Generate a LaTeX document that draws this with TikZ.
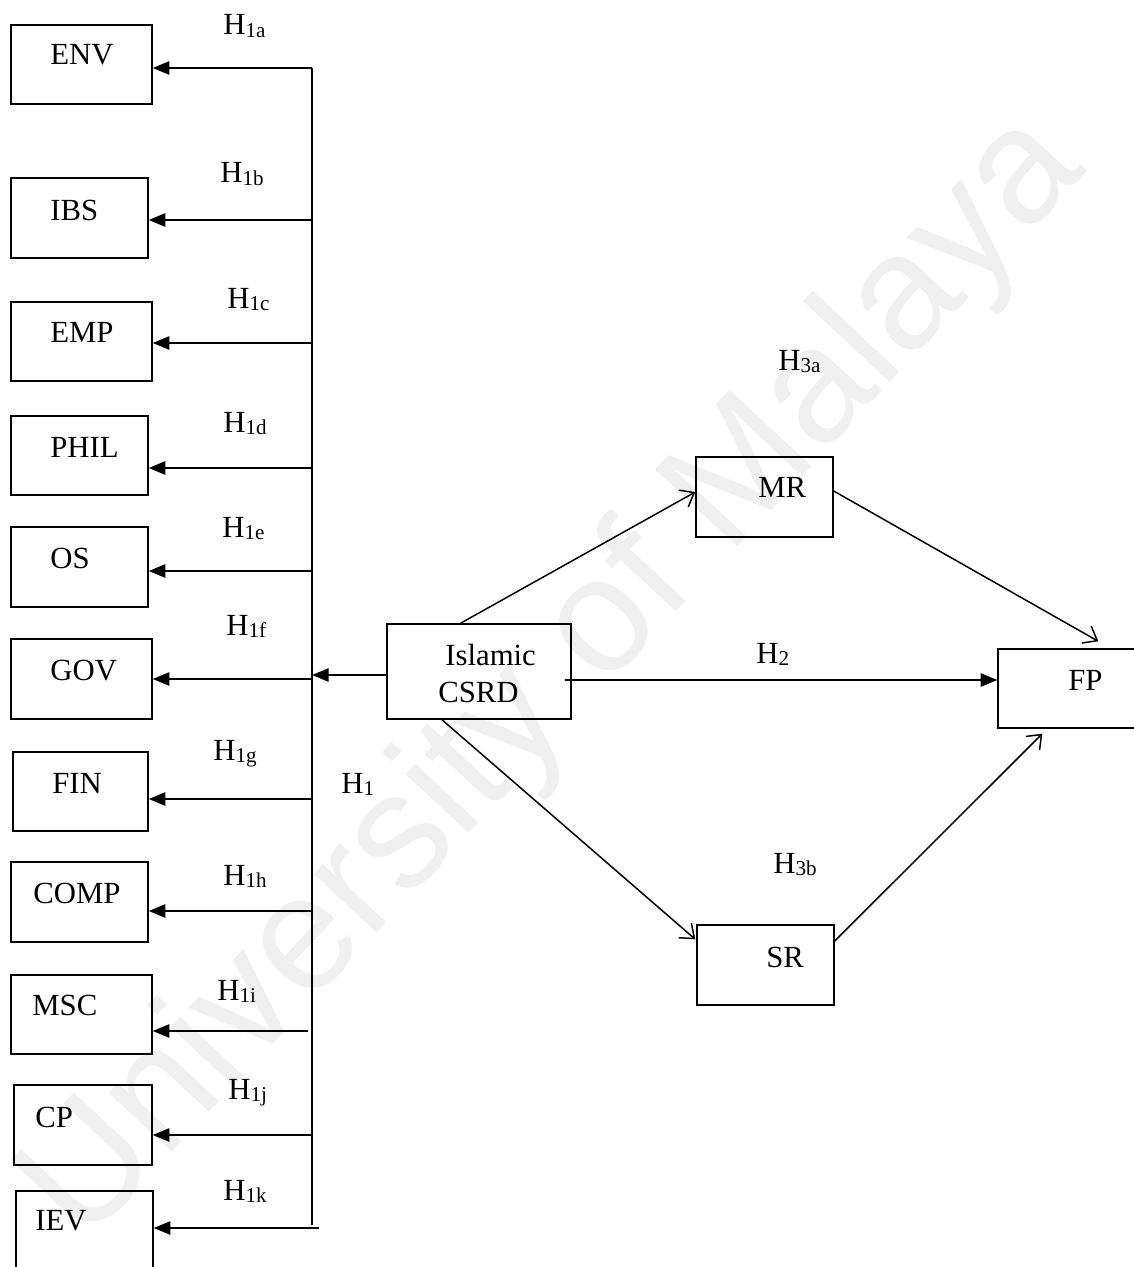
\documentclass[tikz,border=0pt]{standalone}
\usepackage{fontspec}
\setmainfont{Liberation Serif}
\newfontfamily\wmfont{Liberation Sans}
\usetikzlibrary{arrows.meta,calc,fit}

% hypothesis label: H with a lowered, smaller index
\newcommand{\hyp}[1]{H\raisebox{-1.6pt}{\fontsize{12}{12}\selectfont #1}}

\begin{document}
\begin{tikzpicture}[x=0.02cm, y=-0.02cm,
  box/.style={draw, line width=0.8pt, inner sep=0pt},
  lab/.style={inner sep=0pt, font=\fontsize{17.5}{20}\selectfont},
  fillarrow/.style={line width=1.3pt, -{Triangle[length=9.5pt,width=7.5pt]}},
  openarrow/.style={line width=0.85pt, -{Straight Barb[length=7pt,width=11pt,line width=0.85pt]}},
]
\useasboundingbox (0,0) rectangle (1133,1267);

% watermark
\node[text=black!6, font=\wmfont\fontsize{93}{93}\selectfont, rotate=47, inner sep=0pt]
  (wm) at (555,680) {University of Malaya};

% dimension boxes on the left
\node[box, fit={(11,25)(152,104)}]    (env)  {};
\node[box, fit={(11,178)(148,258)}]   (ibs)  {};
\node[box, fit={(11,302)(152,381)}]   (emp)  {};
\node[box, fit={(11,416)(148,495)}]   (phil) {};
\node[box, fit={(11,527)(148,607)}]   (os)   {};
\node[box, fit={(11,639)(152,719)}]   (gov)  {};
\node[box, fit={(13,752)(148,831)}]   (fin)  {};
\node[box, fit={(11,862)(148,942)}]   (comp) {};
\node[box, fit={(11,975)(152,1054)}]  (msc)  {};
\node[box, fit={(14,1085)(152,1165)}] (cp)   {};
\node[box, fit={(16,1191)(153,1290)}] (iev)  {};

\node[lab, anchor=base west] (envT)  at (50,65)   {ENV};
\node[lab, anchor=base west] (ibsT)  at (50,220)  {IBS};
\node[lab, anchor=base west] (empT)  at (50,342)  {EMP};
\node[lab, anchor=base west] (philT) at (50,457)  {PHIL};
\node[lab, anchor=base west] (osT)   at (50,568)  {OS};
\node[lab, anchor=base west] (govT)  at (50,680)  {GOV};
\node[lab, anchor=base west] (finT)  at (52,793)  {FIN};
\node[lab, anchor=base west] (compT) at (33,903)  {COMP};
\node[lab, anchor=base west] (mscT)  at (32,1015) {MSC};
\node[lab, anchor=base west] (cpT)   at (35,1127) {CP};
\node[lab, anchor=base west] (ievT)  at (35,1230) {IEV};

% model boxes
\node[box, fit={(387,624)(571,719)}]  (isl) {};
\node[box, fit={(696,457)(833,537)}]  (mr)  {};
\node[box, fit={(998,649)(1145,728)}] (fp)  {};
\node[box, fit={(697,925)(834,1005)}] (sr)  {};

\node[lab, anchor=base west] (islT)  at (445,665)  {Islamic};
\node[lab, anchor=base west] (csrdT) at (438,702)  {CSRD};
\node[lab, anchor=base west] (mrT)   at (758,497)  {MR};
\node[lab, anchor=base west] (fpT)   at (1068,690) {FP};
\node[lab, anchor=base west] (srT)   at (766,967)  {SR};

% vertical bus feeding the dimensions
\coordinate (bustop) at (312,68);
\coordinate (busbot) at (312,1225);
\draw[line width=1.3pt] (bustop) -- (busbot);

\coordinate (bENV)  at (312,68);
\coordinate (bIBS)  at (312,220);
\coordinate (bEMP)  at (312,343);
\coordinate (bPHIL) at (312,468);
\coordinate (bOS)   at (312,571);
\coordinate (bGOV)  at (312,679);
\coordinate (bFIN)  at (312,799);
\coordinate (bCOMP) at (312,911);
\coordinate (bMSC)  at (308,1031);
\coordinate (bCP)   at (312,1135);
\coordinate (bIEV)  at (319,1228);

\draw[fillarrow] (bENV)  -- (bENV  -| env.east);
\draw[fillarrow] (bIBS)  -- (bIBS  -| ibs.east);
\draw[fillarrow] (bEMP)  -- (bEMP  -| emp.east);
\draw[fillarrow] (bPHIL) -- (bPHIL -| phil.east);
\draw[fillarrow] (bOS)   -- (bOS   -| os.east);
\draw[fillarrow] (bGOV)  -- (bGOV  -| gov.east);
\draw[fillarrow] (bFIN)  -- (bFIN  -| fin.east);
\draw[fillarrow] (bCOMP) -- (bCOMP -| comp.east);
\draw[fillarrow] (bMSC)  -- (bMSC  -| msc.east);
\draw[fillarrow] (bCP)   -- (bCP   -| cp.east);
\draw[fillarrow] (bIEV)  -- (bIEV  -| iev.east);

% Islamic CSRD to the bus
\coordinate (islL) at (387,675);
\draw[fillarrow] (islL) -- (islL -| bustop);

% direct path H2
\coordinate (h2s) at (565,680);
\draw[fillarrow] (h2s) -- (h2s -| fp.west);

% mediated paths
\draw[openarrow] ($(isl.north west)!0.4!(isl.north east)$) -- ($(mr.west)+(0,-5)$);
\draw[openarrow] ($(mr.east)+(0,-6)$) -- ($(fp.north west)+(101,-7)$);
\draw[openarrow] ($(isl.south west)!0.3!(isl.south east)$) -- ($(sr.north west)+(-1,15)$);
\draw[openarrow] ($(sr.east)+(0,-24)$) -- ($(fp.south west)+(45,5)$);

% hypothesis labels
\node[lab, anchor=base west] (h1a) at (223,35)   {\hyp{1a}};
\node[lab, anchor=base west] (h1b) at (220,183)  {\hyp{1b}};
\node[lab, anchor=base west] (h1c) at (227,308)  {\hyp{1c}};
\node[lab, anchor=base west] (h1d) at (223,432)  {\hyp{1d}};
\node[lab, anchor=base west] (h1e) at (222,537)  {\hyp{1e}};
\node[lab, anchor=base west] (h1f) at (226,635)  {\hyp{1f}};
\node[lab, anchor=base west] (h1g) at (213,760)  {\hyp{1g}};
\node[lab, anchor=base west] (h1h) at (223,885)  {\hyp{1h}};
\node[lab, anchor=base west] (h1i) at (217,1000) {\hyp{1i}};
\node[lab, anchor=base west] (h1j) at (228,1099) {\hyp{1j}};
\node[lab, anchor=base west] (h1k) at (223,1200) {\hyp{1k}};
\node[lab, anchor=base west] (h1)  at (341,793)  {\hyp{1}};
\node[lab, anchor=base west] (h2)  at (756,663)  {\hyp{2}};
\node[lab, anchor=base west] (h3a) at (778,370)  {\hyp{3a}};
\node[lab, anchor=base west] (h3b) at (773,873)  {\hyp{3b}};
\end{tikzpicture}
\end{document}
